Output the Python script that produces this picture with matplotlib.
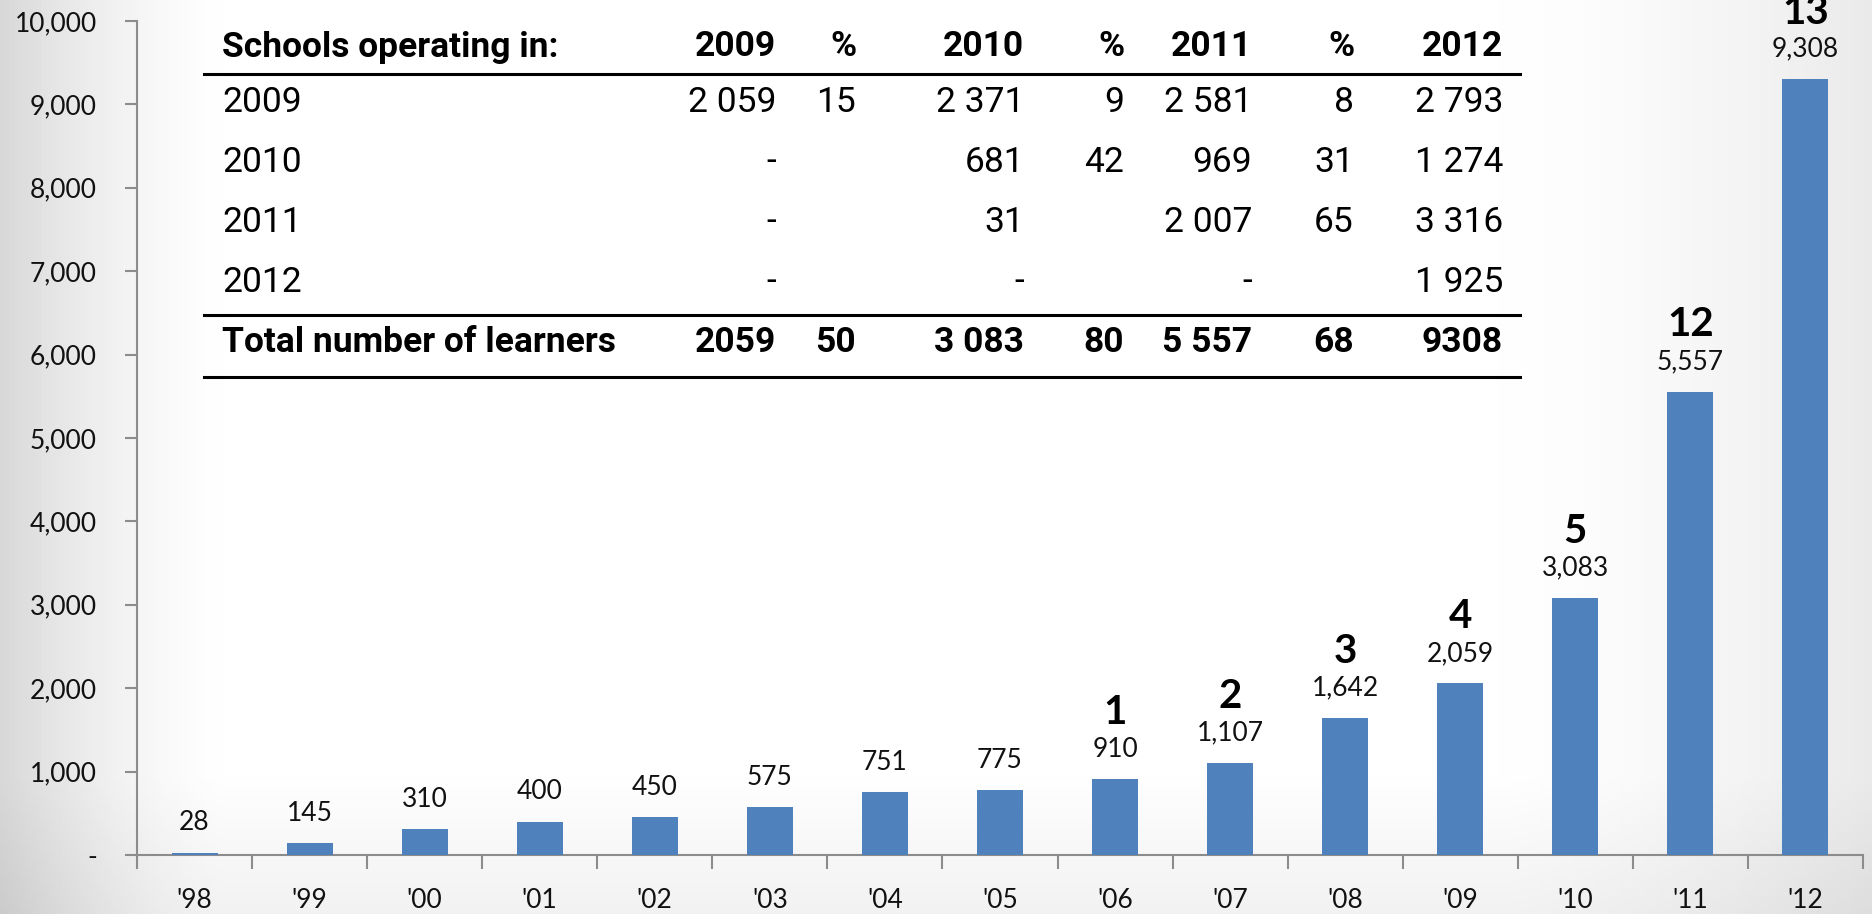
import matplotlib.pyplot as plt
import matplotlib.ticker as mticker
import numpy as np

# chart data
years = ["'98", "'99", "'00", "'01", "'02", "'03", "'04", "'05",
         "'06", "'07", "'08", "'09", "'10", "'11", "'12"]
learners = [28, 145, 310, 400, 450, 575, 751, 775,
            910, 1107, 1642, 2059, 3083, 5557, 9308]
schools = [None, None, None, None, None, None, None, None,
           1, 2, 3, 4, 5, 12, 13]

# inset table
table_header = ['Schools operating in:', '2009', '%', '2010', '%',
                '2011', '%', '2012']
table_rows = [
    ['2009', '2 059', '15', '2 371', '9', '2 581', '8', '2 793'],
    ['2010', '-', '', '681', '42', '969', '31', '1 274'],
    ['2011', '-', '', '31', '', '2 007', '65', '3 316'],
    ['2012', '-', '', '-', '', '-', '', '1 925'],
]
table_total = ['Total number of learners', '2059', '50', '3 083', '80',
               '5 557', '68', '9308']

W, H = 1872, 914
BAR = '#4f81bd'
CHART_FONT = ['Lato', 'DejaVu Sans']
TABLE_FONT = ['Roboto', 'DejaVu Sans']

fig = plt.figure(figsize=(W / 100, H / 100), dpi=100)

# soft grey background, white in the middle
bg = fig.add_axes([0, 0, 1, 1], zorder=-10)
xs = np.linspace(0, 1, 400)
shade = np.ones_like(xs)
shade -= 0.15 * np.clip(1 - xs / 0.12, 0, 1) ** 1.5
shade -= 0.08 * np.clip((xs - 0.80) / 0.20, 0, 1) ** 1.5
ys = np.linspace(0, 1, 200)[:, None]
shade2 = shade[None, :] - 0.05 * np.clip((ys - 0.85) / 0.15, 0, 1)
bg.imshow(np.dstack([shade2] * 3), aspect='auto', extent=[0, 1, 0, 1],
          vmin=0, vmax=1)
bg.axis('off')

ax = fig.add_axes([137 / W, 1 - 855 / H, (1863 - 137) / W, (855 - 21) / H])
ax.set_facecolor('none')

x = np.arange(len(years))
ax.bar(x, learners, width=0.4, color=BAR, zorder=3)

for xi, v, s in zip(x, learners, schools):
    ax.annotate(f'{v:,}', (xi, v), xytext=(0, 21.5), textcoords='offset points',
                ha='center', va='center', fontsize=19, family=CHART_FONT,
                color='#111111', annotation_clip=False)
    if s is not None:
        ax.annotate(str(s), (xi, v), xytext=(0, 48), textcoords='offset points',
                    ha='center', va='center', fontsize=29, fontweight='bold',
                    family=CHART_FONT, color='black', annotation_clip=False)

ax.set_xlim(-0.5, len(years) - 0.5)
ax.set_ylim(0, 10000)
ax.set_yticks(np.arange(0, 10001, 1000))
ax.yaxis.set_major_formatter(
    mticker.FuncFormatter(lambda v, p: '-' if v == 0 else f'{v:,.0f}'))

# category boundaries as ticks, labels centred under bars
ax.set_xticks(np.arange(-0.5, len(years), 1.0))
ax.set_xticklabels([])
ax.set_xticks(x, minor=True)
ax.set_xticklabels(years, minor=True)
ax.tick_params(axis='x', which='major', length=10, width=1.5, color='#8c8c8c')
ax.tick_params(axis='x', which='minor', length=0, pad=24, labelsize=19)
ax.tick_params(axis='y', length=9, width=1.5, color='#8c8c8c', pad=20,
               labelsize=19)
for lab in ax.get_xticklabels(minor=True) + ax.get_yticklabels():
    lab.set_family(CHART_FONT)
    lab.set_color('#111111')

for side in ('top', 'right'):
    ax.spines[side].set_visible(False)
for side in ('left', 'bottom'):
    ax.spines[side].set_color('#8c8c8c')
    ax.spines[side].set_linewidth(1.5)


# table drawn in figure pixel coordinates
def fx(px):
    return px / W


def fy(py):
    return 1 - py / H


col_right = [None, 776, 856, 1024, 1124, 1252, 1354, 1503]
row_y = [47, 102, 162, 222, 282, 342]


def put_row(cells, py, bold):
    for i, txt in enumerate(cells):
        if i == 0:
            fig.text(fx(222), fy(py), txt, ha='left', va='center',
                     fontsize=25.5, family=TABLE_FONT,
                     fontweight='bold' if bold else 'normal')
        else:
            fig.text(fx(col_right[i]), fy(py), txt, ha='right', va='center',
                     fontsize=25.5, family=TABLE_FONT,
                     fontweight='bold' if bold else 'normal')


put_row(table_header, row_y[0], True)
for r, cells in enumerate(table_rows):
    put_row(cells, row_y[r + 1], False)
put_row(table_total, row_y[5], True)

for ly in (74, 315, 377):
    fig.add_artist(plt.Line2D([fx(204), fx(1520)], [fy(ly), fy(ly)],
                              color='black', lw=2.2))

fig.savefig('out.png', dpi=100)
